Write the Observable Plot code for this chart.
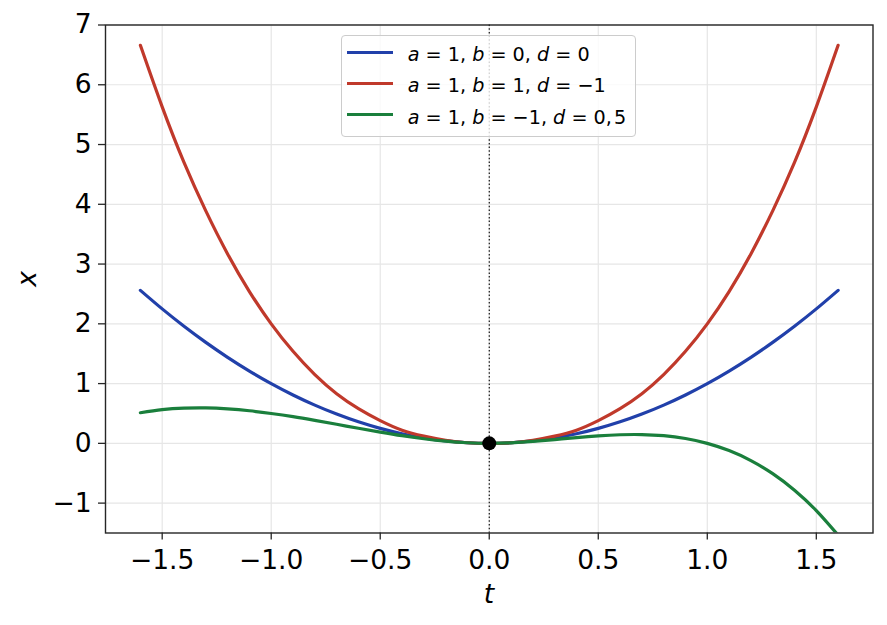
<!DOCTYPE html>
<html>
<head>
<meta charset="utf-8">
<script src="https://cdn.jsdelivr.net/npm/d3@7"></script>
<script src="https://cdn.jsdelivr.net/npm/@observablehq/plot@0.6"></script>
<style>
  html, body { margin: 0; padding: 0; background: #fff; }
  #wrap { position: relative; width: 887px; height: 625px; }
  #legend {
    position: absolute; left: 341px; top: 35px; width: 295px; height: 102px;
    background: rgba(255,255,255,0.8); border: 1.3px solid #cccccc; border-radius: 4px;
    box-sizing: border-box; font-family: "DejaVu Sans", sans-serif; font-size: 19.2px; color: #000;
  }
  #legend .row { position: absolute; left: 0; height: 20px; white-space: nowrap; }
  #legend .sw { position: absolute; left: 5px; top: 5.5px; width: 46px; height: 3.2px; }
  #legend .lab { position: absolute; left: 65.7px; top: 0; line-height: 20px; }
  #legend i { font-style: italic; }
  #legend .cm { margin-right: 2px; }
</style>
</head>
<body>
<div id="wrap"></div>
<script>
// t samples
const tValues = [-1.6,-1.5,-1.4,-1.3,-1.2,-1.1,-1.0,-0.9,-0.8,-0.7,-0.6,-0.5,-0.4,-0.3,-0.2,-0.1,0,
                 0.1,0.2,0.3,0.4,0.5,0.6,0.7,0.8,0.9,1.0,1.1,1.2,1.3,1.4,1.5,1.6];
// series 1: a=1, b=0, d=0
const blueValues = [2.56,2.25,1.96,1.69,1.44,1.21,1.00,0.81,0.64,0.49,0.36,0.25,0.16,0.09,0.04,0.01,0,
                    0.01,0.04,0.09,0.16,0.25,0.36,0.49,0.64,0.81,1.00,1.21,1.44,1.69,1.96,2.25,2.56];
// series 2: a=1, b=1, d=-1
const redValues = [6.66,5.63,4.70,3.89,3.17,2.54,2.00,1.54,1.15,0.83,0.58,0.38,0.22,0.12,0.05,0.01,0,
                   0.01,0.05,0.12,0.22,0.38,0.58,0.83,1.15,1.54,2.00,2.54,3.17,3.89,4.70,5.63,6.66];
// series 3: a=1, b=-1, d=0,5
const greenValues = [0.512,0.563,0.588,0.592,0.576,0.545,0.500,0.446,0.384,0.319,0.252,0.188,0.128,0.077,0.036,0.010,0,
                     0.009,0.032,0.063,0.096,0.125,0.144,0.147,0.128,0.081,0,-0.121,-0.288,-0.507,-0.784,-1.125,-1.536];
const seriesNames = ["a = 1, b = 0, d = 0", "a = 1, b = 1, d = −1", "a = 1, b = −1, d = 0,5"];
const seriesColors = ["#2140aa", "#c0392b", "#1a7f3c"];
const xTicks = [-1.5,-1.0,-0.5,0.0,0.5,1.0,1.5];
const yTicks = [-1,0,1,2,3,4,5,6,7];
const xDomain = [-1.76, 1.76];
const yDomain = [-1.5, 7];

const allSeries = [blueValues, redValues, greenValues];
const tables = allSeries.map(vals => tValues.map((t, i) => ({t, x: vals[i]})));

const plot = Plot.plot({
  width: 887, height: 625,
  marginLeft: 105, marginRight: 14.5, marginTop: 24.5, marginBottom: 92.5,
  x: {domain: xDomain},
  y: {domain: yDomain},
  style: {fontFamily: "DejaVu Sans, sans-serif", fontSize: "26.5px", color: "#000", background: "#fff", overflow: "visible"},
  marks: [
    Plot.gridX(xTicks, {stroke: "#e6e6e6", strokeOpacity: 1, strokeWidth: 1.2}),
    Plot.gridY(yTicks, {stroke: "#e6e6e6", strokeOpacity: 1, strokeWidth: 1.2}),
    Plot.ruleX([0], {stroke: "#000", strokeWidth: 1.1, strokeDasharray: "1.5,2.2"}),
    ...tables.map((tb, i) => Plot.line(tb, {x: "t", y: "x", stroke: seriesColors[i], strokeWidth: 3.2, curve: "natural", clip: true})),
    Plot.dot([{t: 0, x: 0}], {x: "t", y: "x", fill: "#000", r: 7}),
    Plot.axisX(xTicks, {tickSize: 7, tickPadding: 10, stroke: "#262626", strokeWidth: 1.3, tickFormat: d3.format(".1f"), label: null}),
    Plot.axisY(yTicks, {tickSize: 7, tickPadding: 7, stroke: "#262626", strokeWidth: 1.3, tickFormat: d3.format("d"), label: null}),
    Plot.frame({stroke: "#262626", strokeWidth: 1.4})
  ]
});
document.getElementById("wrap").appendChild(plot);

const svg = d3.select(plot);
svg.append("text").attr("x", 489).attr("y", 603).attr("text-anchor", "middle")
  .attr("font-family", "DejaVu Sans, sans-serif").attr("font-size", 26.5).attr("font-style", "italic").text("t");
svg.append("text").attr("transform", "translate(36,279) rotate(-90)").attr("text-anchor", "middle")
  .attr("font-family", "DejaVu Sans, sans-serif").attr("font-size", 26.5).attr("font-style", "italic").text("x");

// legend
const legend = document.createElement("div");
legend.id = "legend";
const fmt = s => s
  .replace(/([abd])/g, "<i>$1</i>")
  .replace(/(\d),(\d)/g, '$1<span class="cm">,</span>$2');
seriesNames.forEach((name, i) => {
  const row = document.createElement("div");
  row.className = "row";
  row.style.top = (9 + i * 31.3) + "px";
  row.innerHTML = `<div class="sw" style="background:${seriesColors[i]}"></div><div class="lab">${fmt(name)}</div>`;
  legend.appendChild(row);
});
document.getElementById("wrap").appendChild(legend);
</script>
</body>
</html>
